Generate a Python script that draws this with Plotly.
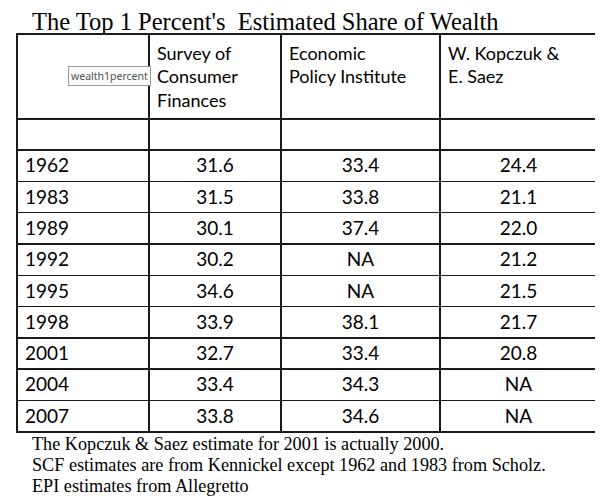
import plotly.graph_objects as go

years = ["1962", "1983", "1989", "1992", "1995", "1998", "2001", "2004", "2007"]
scf = [31.6, 31.5, 30.1, 30.2, 34.6, 33.9, 32.7, 33.4, 33.8]
epi = [33.4, 33.8, 37.4, None, None, 38.1, 33.4, 34.3, 34.6]
kopczuk_saez = [24.4, 21.1, 22.0, 21.2, 21.5, 21.7, 20.8, None, None]
headers = ["", "Survey of<br>Consumer<br>Finances", "Economic<br>Policy Institute",
           "W. Kopczuk &<br>E. Saez"]
title = "The Top 1 Percent's  Estimated Share of Wealth"
notes = ["The Kopczuk & Saez estimate for 2001 is actually 2000.",
         "SCF estimates are from Kennickel except 1962 and 1983 from Scholz.",
         "EPI estimates from Allegretto"]

# the page body adds an 8px margin, so the figure is 8px smaller each way
OFF = 8
W, H = 603 - OFF, 500 - OFF
ML, MR, MT, MB = 9, 6, 26, 40


def fmt(vals):
    return [""] + ["NA" if v is None else f"{v:.1f}" for v in vals]


def px(x, y):
    # page pixel position -> paper coords
    x, y = x - OFF, y - OFF
    return (x - ML) / (W - ML - MR), (H - MB - y) / (H - MT - MB)


line = dict(color="#1a1a1a", width=1.4)
fig = go.Figure(go.Table(
    columnwidth=[132, 132, 159, 157],
    header=dict(values=headers, height=84, align="left",
                font=dict(family="Lato", size=18, color="black"),
                fill_color="white", line=line),
    cells=dict(values=[[""] + years, fmt(scf), fmt(epi), fmt(kopczuk_saez)],
               height=31.3, align=["left", "center", "center", "center"],
               font=dict(family="Lato", size=19, color="black"),
               fill_color="white", line=line),
))

tx, ty = px(30, 21)
fig.add_annotation(text=title, x=tx, y=ty, xref="paper", yref="paper",
                   xanchor="left", yanchor="middle", showarrow=False, height=26,
                   font=dict(family="Liberation Serif", size=24.5, color="black"))

for i, n in enumerate(notes):
    nx, ny = px(30, 444 + i * 21)
    fig.add_annotation(text=n, x=nx, y=ny, xref="paper", yref="paper",
                       xanchor="left", yanchor="middle", showarrow=False,
                       font=dict(family="Liberation Serif", size=18.2, color="black"))

# little tooltip-like label sitting on the header
bx, by = px(110, 76)
fig.add_annotation(text="wealth1percent", x=bx, y=by, xref="paper", yref="paper",
                   xanchor="center", yanchor="middle",
                   showarrow=False, bgcolor="#fafafa", bordercolor="#9a9a9a",
                   borderwidth=1, borderpad=2,
                   font=dict(family="Noto Sans", size=10.5, color="#555555"))

fig.update_layout(width=W, height=H, paper_bgcolor="white",
                  margin=dict(l=ML, r=MR, t=MT, b=MB))
fig.write_html("out.html")
